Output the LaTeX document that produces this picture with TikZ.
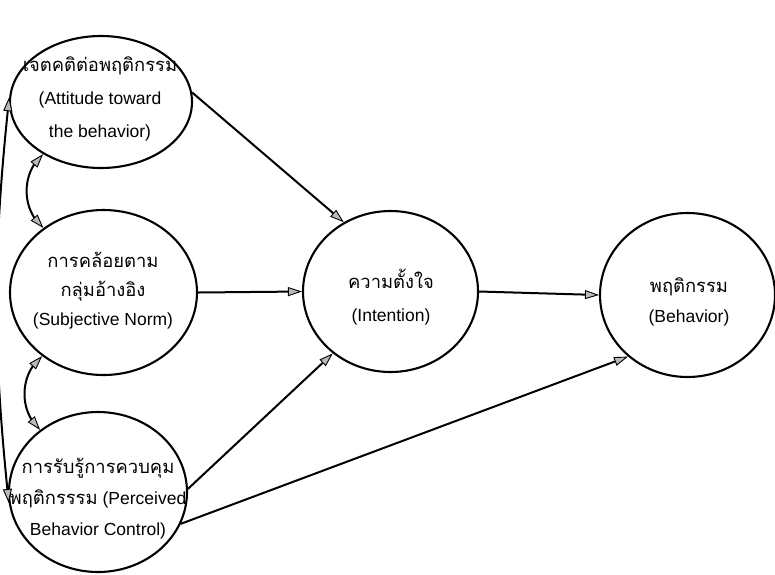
\documentclass[tikz,border=0pt]{standalone}
\usepackage{fontspec}
\setmainfont{Liberation Sans}
\newfontfamily\thai[Script=Thai,Scale=1.05]{Loma}
\usetikzlibrary{shapes.geometric,arrows.meta,bending}
\tikzset{
  gtip/.tip={Triangle[length=14pt,width=9pt,fill=gray!55,line width=0.9pt]},
  oval/.style={ellipse, draw, line width=2.1pt, inner sep=0pt},
  lbl/.style={align=center, inner sep=0pt, font=\fontsize{17.5}{21}\selectfont},
  conn/.style={line width=2pt, -gtip},
  dconn/.style={line width=2pt, gtip-gtip},
}
\begin{document}
\begin{tikzpicture}[x=1pt,y=-1pt]
\useasboundingbox (0,0) rectangle (775,574);
% ellipses
\node[oval, minimum width=182pt, minimum height=132pt] (e1) at (101,102) {};
\node[oval, minimum width=187pt, minimum height=165pt] (e2) at (103.5,292.5) {};
\node[oval, minimum width=178pt, minimum height=160pt] (e3) at (98,492) {};
\node[oval, minimum width=175pt, minimum height=161pt] (e4) at (390.5,291.5) {};
\node[oval, minimum width=175pt, minimum height=164pt] (e5) at (687.5,295) {};
% labels
\node[lbl] (t1) at (100,99) {{\thai เจตคติต่อพฤติกรรม}\\[12pt](Attitude toward\\[12pt]the behavior)};
\node[lbl] (t2) at (103,291) {{\thai การคล้อยตาม}\\[8pt]{\thai กลุ่มอ้างอิง}\\[8pt](Subjective Norm)};
\node[lbl] (t3) at (98,499) {{\thai การรับรู้การควบคุม}\\[10pt]{\thai พฤติกรรรม} (Perceived\\[10pt]Behavior Control)};
\node[lbl] (t4) at (391,297) {{\thai ความตั้งใจ}\\[12pt](Intention)};
\node[lbl] (t5) at (689,302) {{\thai พฤติกรรม}\\[9pt](Behavior)};
% connectors
\draw[conn] (e1.6) -- (e4.124);
\draw[conn] (e2.east) -- (e4.west);
\draw[conn] (e3.2) -- (e4.227);
\draw[conn] (e3.339) -- (e5.226);
\draw[conn] (e4.east) -- (e5.west);
\draw[dconn] (e1.222) to[bend right=50] (e2.133);
\draw[dconn] (e2.226) to[bend right=50] (e3.133);
\draw[dconn] (e1.177) to[bend right=6] (e3.187);
\end{tikzpicture}
\end{document}
